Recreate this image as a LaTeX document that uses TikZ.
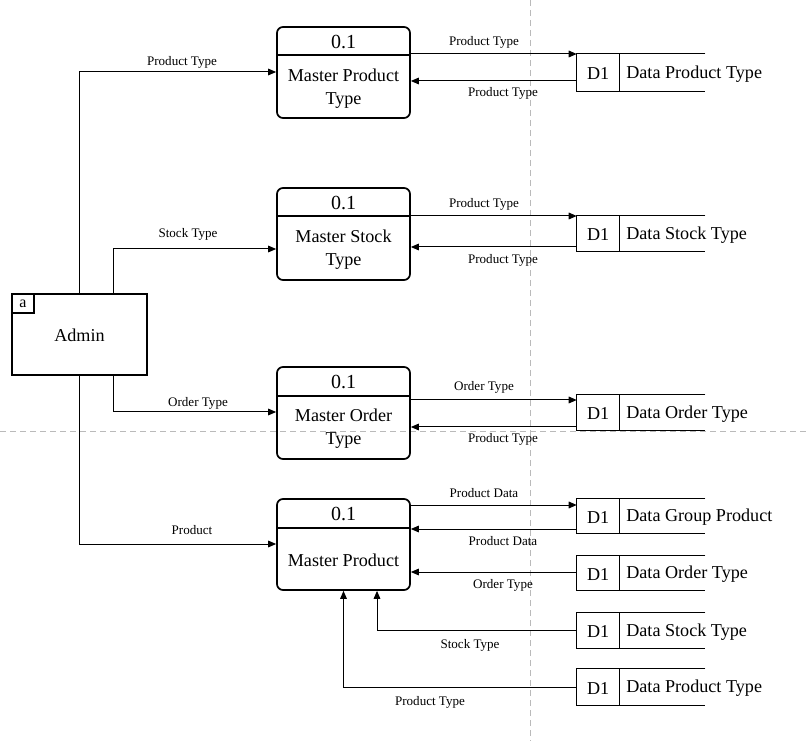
\documentclass[tikz,border=0pt]{standalone}
\usepackage{fontspec}
\setmainfont{Liberation Serif}
\newfontfamily\tms{Liberation Serif}
\usetikzlibrary{arrows.meta}

% data store: open-ended box with an id cell and a name
\newcommand\dstore[4]{%
  \node[storebox,minimum height=#3] (#1) at (641,#2) {};
  \draw[storeline] (#1.north east) -- (#1.north west) -- (#1.south west) -- (#1.south east);
  \draw[storeline] ([xshift=32.25pt]#1.north west) -- ([xshift=32.25pt]#1.south west);
  \node[maintxt] (#1id) at ([xshift=16.1pt,yshift=-1pt]#1.west) {D1};
  \node[maintxt,anchor=west] (#1name) at ([xshift=37pt,yshift=-1pt]#1.west) {#4};
}

\begin{document}
\begin{tikzpicture}[x=0.75pt,y=-0.75pt,
  maintxt/.style={font=\tms\fontsize{13.6pt}{17.25pt}\selectfont,inner sep=0pt,align=center},
  numtxt/.style={font=\tms\fontsize{15pt}{17pt}\selectfont,inner sep=0pt},
  lbl/.style={font=\tms\fontsize{9.8pt}{12pt}\selectfont,inner sep=0pt},
  proc/.style={draw,line width=1.3pt,rounded corners=4.5pt,minimum width=99.75pt,inner sep=0pt},
  procline/.style={line width=1.3pt},
  storebox/.style={minimum width=96pt,inner sep=0pt},
  storeline/.style={line width=1.1pt},
  ent/.style={draw,line width=1.1pt,inner sep=0pt},
  arr/.style={line width=0.75pt,-{Triangle[length=6pt,width=5pt]}},
  guide/.style={draw=black!27,line width=0.75pt,dash pattern=on 4.5pt off 3pt}
]
\useasboundingbox (0,0) rectangle (807,741);

% page guides
\draw[guide] (530,0) -- (530,741);
\draw[guide] (0,432) -- (807,432);

% processes
\node[proc,minimum height=68.25pt] (b1) at (343.5,72.5) {};
\node[proc,minimum height=69pt] (b2) at (343.5,234) {};
\node[proc,minimum height=69pt] (b3) at (343.5,413) {};
\node[proc,minimum height=68.25pt] (b4) at (343.5,544.5) {};
\draw[procline] (b1.west |- 0,55) -- (b1.east |- 0,55);
\draw[procline] (b2.west |- 0,216) -- (b2.east |- 0,216);
\draw[procline] (b3.west |- 0,396) -- (b3.east |- 0,396);
\draw[procline] (b4.west |- 0,528) -- (b4.east |- 0,528);
\node[numtxt] (b1n) at (343.5,41.5) {0.1};
\node[numtxt] (b2n) at (343.5,202.5) {0.1};
\node[numtxt] (b3n) at (343.5,382) {0.1};
\node[numtxt] (b4n) at (343.5,513.5) {0.1};
\node[maintxt] (b1t) at (343.5,88.5) {Master Product\\Type};
\node[maintxt] (b2t) at (343.5,250) {Master Stock\\Type};
\node[maintxt] (b3t) at (343.5,429) {Master Order\\Type};
\node[maintxt] (b4t) at (343.5,560.5) {Master Product};

% external entity
\node[ent,minimum width=101.25pt,minimum height=60.75pt] (adm) at (79.5,334.5) {};
\node[ent,minimum width=16.5pt,minimum height=14.25pt,anchor=north west,
      font=\tms\fontsize{12pt}{14pt}\selectfont] (admid) at (adm.north west) {a};
\node[maintxt] (admt) at (79.5,335.5) {Admin};

% data stores
\dstore{s1}{72.5}{27.75pt}{Data Product Type}
\dstore{s2}{233.5}{26.25pt}{Data Stock Type}
\dstore{s3}{412.5}{26.25pt}{Data Order Type}
\dstore{s4}{516}{25.5pt}{Data Group Product}
\dstore{s5}{573}{25.5pt}{Data Order Type}
\dstore{s6}{630.5}{26.25pt}{Data Stock Type}
\dstore{s7}{687}{27pt}{Data Product Type}

% flows from the entity
\draw[arr] (adm.north -| 79,0) |- (b1.west |- 0,72);
\draw[arr] (adm.north -| 113,0) |- (b2.west |- 0,249);
\draw[arr] (adm.south -| 113,0) |- (b3.west |- 0,412);
\draw[arr] (adm.south -| 79,0) |- (b4.west |- 0,544);
\node[lbl] (l1) at (182,62) {Product Type};
\node[lbl] (l2) at (188,234) {Stock Type};
\node[lbl] (l3) at (198,403) {Order Type};
\node[lbl] (l4) at (192,530) {Product};

% flows between processes and stores
\draw[arr] (b1.east |- 0,54) -- (s1.west |- 0,54);
\draw[arr] (s1.west |- 0,81) -- (b1.east |- 0,81);
\draw[arr] (b2.east |- 0,216) -- (s2.west |- 0,216);
\draw[arr] (s2.west |- 0,247) -- (b2.east |- 0,247);
\draw[arr] (b3.east |- 0,400) -- (s3.west |- 0,400);
\draw[arr] (s3.west |- 0,427) -- (b3.east |- 0,427);
\draw[arr] (b4.east |- 0,505) -- (s4.west |- 0,505);
\draw[arr] (s4.west |- 0,529) -- (b4.east |- 0,529);
\draw[arr] (s5.west |- 0,572) -- (b4.east |- 0,572);
\draw[arr] (s6.west) -| (b4.south -| 377,0);
\draw[arr] (s7.west) -| (b4.south);

\node[lbl] (r1a) at (484,42) {Product Type};
\node[lbl] (r1b) at (503,93.5) {Product Type};
\node[lbl] (r2a) at (484,204) {Product Type};
\node[lbl] (r2b) at (503,260) {Product Type};
\node[lbl] (r3a) at (484,387) {Order Type};
\node[lbl] (r3b) at (503,439) {Product Type};
\node[lbl] (r4a) at (484,493) {Product Data};
\node[lbl] (r4b) at (503,541.5) {Product Data};
\node[lbl] (r5) at (503,585) {Order Type};
\node[lbl] (r6) at (470,645) {Stock Type};
\node[lbl] (r7) at (430,702) {Product Type};
\end{tikzpicture}
\end{document}
